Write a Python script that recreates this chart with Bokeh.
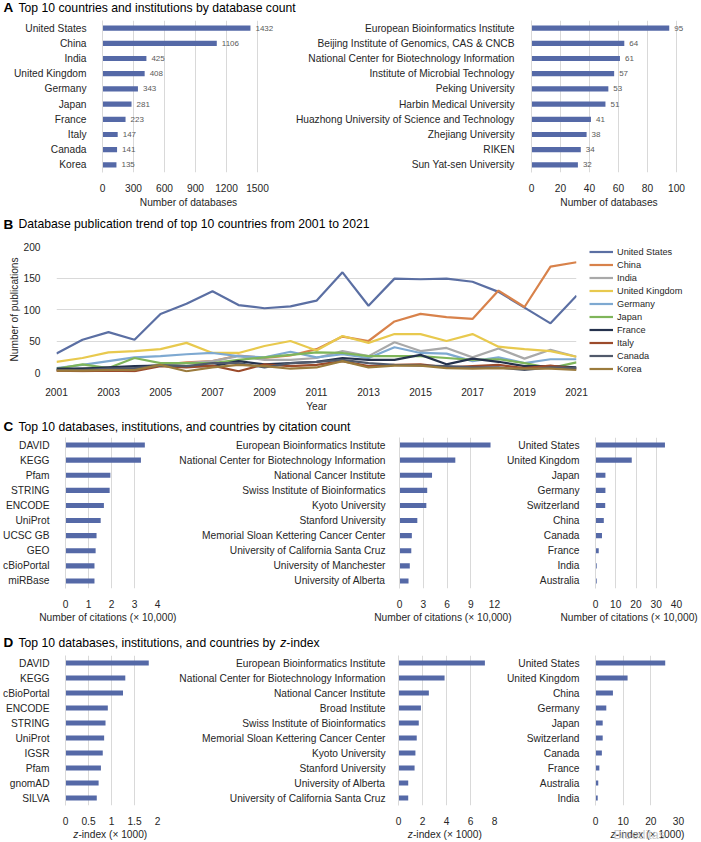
from bokeh.plotting import figure
from bokeh.models import (FactorRange, Range1d, FixedTicker, Label, Legend, LegendItem,
                          NumeralTickFormatter, ColumnDataSource)
from bokeh.layouts import column, row
from bokeh.embed import file_html
from bokeh.resources import INLINE
from bokeh.core.properties import value

# ---------------- data ----------------
A_countries = ["United States", "China", "India", "United Kingdom", "Germany",
               "Japan", "France", "Italy", "Canada", "Korea"]
A_country_counts = [1432, 1106, 425, 408, 343, 281, 223, 147, 141, 135]
A_institutions = ["European Bioinformatics Institute", "Beijing Institute of Genomics, CAS & CNCB",
                  "National Center for Biotechnology Information", "Institute of Microbial Technology",
                  "Peking University", "Harbin Medical University",
                  "Huazhong University of Science and Technology", "Zhejiang University",
                  "RIKEN", "Sun Yat-sen University"]
A_institution_counts = [95, 64, 61, 57, 53, 51, 41, 38, 34, 32]

B_years = [2001, 2002, 2003, 2004, 2005, 2006, 2007, 2008, 2009, 2010, 2011,
           2012, 2013, 2014, 2015, 2016, 2017, 2018, 2019, 2020, 2021]
B_year_ticks = [2001, 2003, 2005, 2007, 2009, 2011, 2013, 2015, 2017, 2019, 2021]
B_us = [30, 52, 64, 52, 93, 109, 129, 107, 102, 105, 114, 159, 106, 149, 148, 149, 144, 128, 103, 78, 122]
B_china = [3, 4, 5, 7, 12, 16, 18, 27, 23, 27, 37, 57, 50, 81, 93, 88, 85, 130, 104, 168, 175]
B_india = [4, 7, 8, 8, 12, 15, 18, 26, 20, 20, 23, 34, 26, 48, 34, 39, 24, 38, 22, 36, 25]
B_uk = [17, 23, 32, 34, 37, 47, 31, 31, 42, 50, 35, 58, 47, 61, 61, 50, 61, 41, 37, 34, 25]
B_germany = [7, 12, 18, 24, 26, 29, 31, 26, 24, 33, 24, 29, 23, 40, 31, 30, 18, 24, 15, 21, 21]
B_japan = [6, 13, 7, 23, 15, 15, 15, 20, 24, 28, 32, 31, 26, 26, 26, 23, 20, 21, 15, 7, 16]
B_france = [6, 6, 8, 10, 11, 10, 10, 18, 13, 15, 17, 23, 20, 20, 28, 13, 22, 17, 10, 10, 8]
B_italy = [3, 2, 3, 2, 10, 8, 11, 2, 13, 10, 12, 18, 10, 12, 13, 8, 10, 12, 7, 11, 6]
B_canada = [4, 4, 6, 7, 11, 10, 15, 15, 8, 15, 17, 20, 15, 12, 11, 10, 8, 8, 4, 8, 7]
B_korea = [3, 3, 4, 4, 12, 2, 8, 12, 10, 6, 8, 18, 8, 11, 11, 7, 6, 7, 6, 6, 4]
B_series = [B_us, B_china, B_india, B_uk, B_germany, B_japan, B_france, B_italy, B_canada, B_korea]
B_colors = ["#5b6fa3", "#d8824b", "#a9a9a9", "#e8c94e", "#7ea9d1",
            "#7fb55a", "#25324d", "#9c4b2b", "#515a6b", "#9b7b3c"]

C_db = ["DAVID", "KEGG", "Pfam", "STRING", "ENCODE", "UniProt", "UCSC GB", "GEO", "cBioPortal", "miRBase"]
C_db_cit = [3.45, 3.28, 1.95, 1.92, 1.67, 1.53, 1.35, 1.31, 1.26, 1.26]
C_inst = ["European Bioinformatics Institute", "National Center for Biotechnology Information",
          "National Cancer Institute", "Swiss Institute of Bioinformatics", "Kyoto University",
          "Stanford University", "Memorial Sloan Kettering Cancer Center",
          "University of California Santa Cruz", "University of Manchester", "University of Alberta"]
C_inst_cit = [11.5, 7.05, 4.11, 3.5, 3.39, 2.25, 1.56, 1.49, 1.3, 1.14]
C_cty = ["United States", "United Kingdom", "Japan", "Germany", "Switzerland",
         "China", "Canada", "France", "India", "Australia"]
C_cty_cit = [34.3, 17.9, 4.9, 4.9, 4.8, 4.1, 3.2, 1.6, 0.6, 0.6]

D_db = ["DAVID", "KEGG", "cBioPortal", "ENCODE", "STRING", "UniProt", "IGSR", "Pfam", "gnomAD", "SILVA"]
D_db_z = [1.81, 1.30, 1.25, 0.92, 0.87, 0.84, 0.81, 0.77, 0.72, 0.68]
D_inst = ["European Bioinformatics Institute", "National Center for Biotechnology Information",
          "National Cancer Institute", "Broad Institute", "Swiss Institute of Bioinformatics",
          "Memorial Sloan Kettering Cancer Center", "Kyoto University", "Stanford University",
          "University of Alberta", "University of California Santa Cruz"]
D_inst_z = [7.2, 3.84, 2.53, 1.87, 1.69, 1.52, 1.41, 1.34, 0.81, 0.81]
D_cty = ["United States", "United Kingdom", "China", "Germany", "Japan", "Switzerland",
         "Canada", "France", "Australia", "India"]
D_cty_z = [25.2, 11.6, 6.3, 3.9, 2.6, 2.6, 2.3, 1.4, 1.0, 0.8]

CIT_LABEL = "Number of citations (\u00d7 10,000)"
DB_LABEL = "Number of databases"

# ---------------- style / layout helpers ----------------
SX, SY = 700 / 701.0, 841 / 842.0
W_TOTAL = 700
FONT = "Liberation Sans"
BAR = "#5569a7"
GRID = "#d9d9d9"
TXT = "#262626"
FS = 10.2          # tick / category / axis title font size
TITLE_FS = 12.2
LETTER_FS = 13.5


def X(v):
    return int(round(v * SX))


def Y(v):
    return int(round(v * SY))


# Arial (= Liberation Sans) advance widths, used to place italic pieces next to roman ones
_AW = {' ': 278, ',': 278, '-': 333, '(': 333, ')': 333, '\u00d7': 584, 'T': 611, 'N': 722,
       'a': 556, 'b': 556, 'c': 500, 'd': 556, 'e': 556, 'f': 278, 'g': 556, 'h': 556, 'i': 222,
       'l': 222, 'm': 833, 'n': 556, 'o': 556, 'p': 556, 'r': 333, 's': 500, 't': 278, 'u': 556,
       'x': 500, 'y': 500, 'z': 500}


def tw(text, size):
    return sum(_AW.get(ch, 556) for ch in text) * size / 1000.0


def base_fig(width, height, left, right, top, bottom, **kw):
    p = figure(width=width, height=height, min_border_left=left, min_border_right=right,
               min_border_top=top, min_border_bottom=bottom, output_backend="svg",
               toolbar_location=None, **kw)
    p.outline_line_color = None
    p.background_fill_color = "white"
    p.border_fill_color = "white"
    return p


def blank_fig(width, height, left=0, top=0):
    return base_fig(width, height, left, 0, top, 0, x_range=Range1d(0, width - left),
                    y_range=Range1d(0, height - top), x_axis_type=None, y_axis_type=None)


def strip(y0, y1):
    h = Y(y1) - Y(y0)
    return blank_fig(W_TOTAL, h), h


def put(p, h, y0, x, cy, text, size, style="normal", align="left", color="black", font=FONT,
        alpha=1.0):
    yc = h - (cy * SY - Y(y0))
    p.add_layout(Label(x=x, y=yc, text=text, text_font=font, text_font_style=style,
                       text_font_size="%.1fpx" % size, text_color=color, text_alpha=alpha,
                       text_align=align, text_baseline="middle"))


def panel_title(p, h, y0, cy, letter, parts):
    put(p, h, y0, X(3), cy, letter, LETTER_FS, style="bold")
    x = X(18)
    for text, style in parts:
        put(p, h, y0, x, cy, text, TITLE_FS, style=style)
        x += tw(text, TITLE_FS)


def zindex_title(p, h, y0, cx, cy):
    full = "z-index (\u00d7 1000)"
    x = cx * SX - tw(full, FS) / 2.0
    put(p, h, y0, x, cy, "z", FS, style="italic", color=TXT)
    put(p, h, y0, x + tw("z", FS), cy, "-index (\u00d7 1000)", FS, color=TXT)


def bar_fig(x0, x1, ry0, ry1, fx0, fx1, fy0, fy1, cats, vals, xmax, ticks,
            xlabel=None, fmt=None, value_labels=False, last=False, standoff=10, fx_ext=None):
    xa = X(x0)
    xb = W_TOTAL if last else X(x1)
    ya, yb = Y(ry0), Y(ry1)
    width, height = xb - xa, yb - ya
    fr = X(fx_ext) if fx_ext is not None else X(fx1)
    left, right = X(fx0) - xa, xb - fr
    top, bottom = Y(fy0) - ya, yb - Y(fy1)
    rend = xmax * (fr - X(fx0)) / float(X(fx1) - X(fx0))
    p = base_fig(width, height, left, right, top, bottom,
                 y_range=FactorRange(factors=list(reversed(cats)), range_padding=0),
                 x_range=Range1d(0, rend))
    src = ColumnDataSource(dict(cat=cats, val=vals, lab=[str(v) for v in vals]))
    p.hbar(y="cat", left=0, right="val", height=0.34, source=src,
           fill_color=BAR, line_color=None)
    if value_labels:
        p.text(x="val", y="cat", text="lab", source=src, x_offset=5, text_baseline="middle",
               text_font=value(FONT), text_font_size="8px", text_color="#595959")
    t = FixedTicker(ticks=ticks)
    p.xaxis.ticker = t
    p.xgrid.ticker = t
    p.xgrid.grid_line_color = GRID
    p.ygrid.visible = False
    if fmt is not None:
        p.xaxis.formatter = fmt
    for ax in p.xaxis:
        ax.axis_line_color = None
        ax.major_tick_line_color = None
        ax.minor_tick_line_color = None
        ax.major_label_standoff = 5
        ax.major_label_text_font = FONT
        ax.major_label_text_font_size = "%.1fpx" % FS
        ax.major_label_text_color = TXT
        if xlabel:
            ax.axis_label = xlabel
            ax.axis_label_standoff = 2
            ax.axis_label_text_font = FONT
            ax.axis_label_text_font_size = "%.1fpx" % FS
            ax.axis_label_text_font_style = "normal"
            ax.axis_label_text_color = TXT
    for ax in p.yaxis:
        ax.axis_line_color = GRID
        ax.major_tick_line_color = None
        ax.minor_tick_line_color = None
        ax.major_label_standoff = standoff
        ax.major_label_text_font = FONT
        ax.major_label_text_font_size = "%.1fpx" % FS
        ax.major_label_text_color = TXT
    return p


def line_row():
    ya, yb = Y(234), Y(414)
    h = yb - ya
    split = X(589)
    p = base_fig(split, h, X(56), split - X(577), Y(246) - ya, yb - Y(372),
                 x_range=Range1d(B_years[0], B_years[-1]), y_range=Range1d(0, 200))
    for vals, col in zip(B_series, B_colors):
        p.line(B_years, vals, line_color=col, line_width=2.2)
    xt = FixedTicker(ticks=B_year_ticks)
    yt = FixedTicker(ticks=[0, 50, 100, 150, 200])
    p.xaxis.ticker = xt
    p.yaxis.ticker = yt
    p.ygrid.ticker = yt
    p.xgrid.visible = False
    p.ygrid.grid_line_color = GRID
    for ax in p.xaxis + p.yaxis:
        ax.axis_line_color = None
        ax.major_tick_line_color = None
        ax.minor_tick_line_color = None
        ax.major_label_text_font = FONT
        ax.major_label_text_font_size = "%.1fpx" % FS
        ax.major_label_text_color = TXT
        ax.axis_label_text_font = FONT
        ax.axis_label_text_font_size = "%.1fpx" % FS
        ax.axis_label_text_font_style = "normal"
        ax.axis_label_text_color = TXT
    p.xaxis.major_label_standoff = 9
    p.xaxis.axis_label = "Year"
    p.xaxis.axis_label_standoff = 2
    p.yaxis.major_label_standoff = 10
    p.yaxis.axis_label = "Number of publications"
    p.yaxis.axis_label_standoff = 1

    # the legend sits in its own small figure to the right of the plot; its lines use the
    # same series, which fall outside that figure's ranges, so only the legend shows
    item_h, gap = 11, 2
    top = int(round((251 * SY - ya) - item_h / 2.0))
    lf = blank_fig(W_TOTAL - split, h, left=1, top=top)
    items = []
    for name, vals, col in zip(A_countries, B_series, B_colors):
        r = lf.line(B_years, vals, line_color=col, line_width=2.2)
        items.append(LegendItem(label=name, renderers=[r]))
    legend = Legend(items=items, location="top_left", orientation="vertical",
                    border_line_color=None, background_fill_alpha=0, padding=0, margin=0,
                    spacing=gap, glyph_height=item_h, glyph_width=24,
                    label_height=item_h, label_standoff=4, label_text_font=FONT,
                    label_text_font_size="9.2px", label_text_color=TXT,
                    label_text_baseline="middle")
    lf.add_layout(legend)
    return row(p, lf)


# ---------------- panels ----------------
tA, hA = strip(0, 16)
panel_title(tA, hA, 0, 7.5, "A", [("Top 10 countries and institutions by database count", "normal")])
a1 = bar_fig(0, 290, 16, 210, 102, 257, 20.3, 173.7, A_countries, A_country_counts, 1500,
             [0, 300, 600, 900, 1200, 1500], xlabel=DB_LABEL, value_labels=True, fx_ext=274)
a2 = bar_fig(290, 701, 16, 210, 532, 677, 20.3, 173.7, A_institutions, A_institution_counts, 100,
             [0, 20, 40, 60, 80, 100], xlabel=DB_LABEL, value_labels=True, last=True,
             standoff=11, fx_ext=687)

tB, hB = strip(210, 234)
panel_title(tB, hB, 210, 224, "B",
            [("Database publication trend of top 10 countries from 2001 to 2021", "normal")])
b = line_row()

tC, hC = strip(414, 436)
panel_title(tC, hC, 414, 427, "C",
            [("Top 10 databases, institutions, and countries by citation count", "normal")])
c1 = bar_fig(0, 176, 436, 611, 59, 157, 438.0, 591.4, C_db, C_db_cit, 4, [0, 1, 2, 3, 4])
c2 = bar_fig(176, 505, 436, 611, 390, 495, 438.0, 591.4, C_inst, C_inst_cit, 12, [0, 3, 6, 9, 12],
             standoff=8)
c3 = bar_fig(505, 701, 436, 611, 593, 677, 436.0, 591.0, C_cty, C_cty_cit, 40, [0, 10, 20, 30, 40],
             last=True)

tCD, hCD = strip(611, 654)
for cx in (107.5, 443, 629.5):
    put(tCD, hCD, 611, cx * SX, 618, CIT_LABEL, FS, align="center", color=TXT)
panel_title(tCD, hCD, 611, 643, "D",
            [("Top 10 databases, institutions, and countries by ", "normal"),
             ("z", "italic"), ("-index", "normal")])

d1 = bar_fig(0, 176, 654, 828, 59, 157, 655.6, 809.0, D_db, D_db_z, 2, [0, 0.5, 1, 1.5, 2],
             fmt=NumeralTickFormatter(format="0.[0]"))
d2 = bar_fig(176, 505, 654, 828, 389, 495, 655.6, 809.0, D_inst, D_inst_z, 8, [0, 2, 4, 6, 8],
             standoff=7)
d3 = bar_fig(505, 701, 654, 828, 592, 679, 655.6, 809.0, D_cty, D_cty_z, 30, [0, 10, 20, 30],
             last=True)

tE, hE = strip(828, 842)
for cx in (110, 445, 648):
    zindex_title(tE, hE, 828, cx, 834.5)
put(tE, hE, 828, X(614), 835, "Bioeditas", 12.5, color="#bdbdbd", alpha=0.8)

page = column(tA, row(a1, a2), tB, b, tC, row(c1, c2, c3), tCD, row(d1, d2, d3), tE)

open("out.html", "w").write(file_html(page, INLINE))
